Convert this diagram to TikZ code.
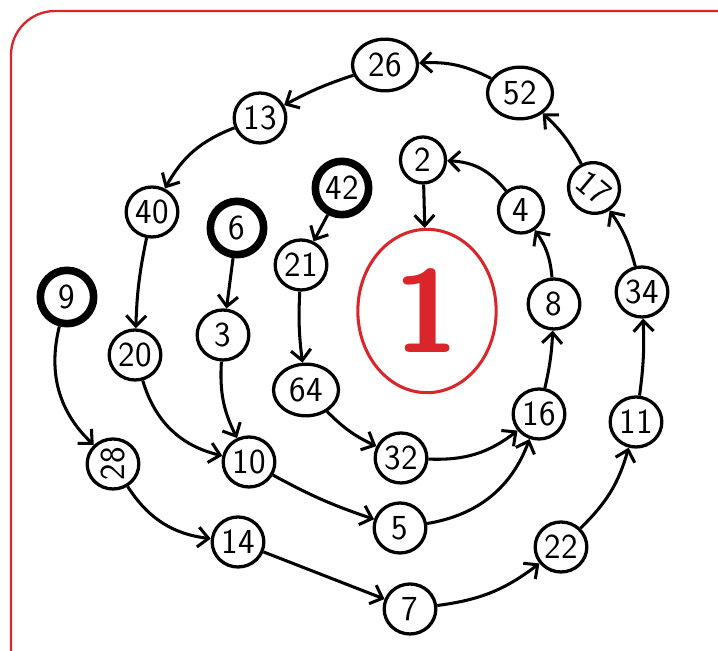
\documentclass[tikz,border=0pt]{standalone}
\usepackage{tikz}
\usetikzlibrary{arrows.meta,shapes.geometric}
\definecolor{framered}{RGB}{218,37,42}
\tikzstyle{num} = [ellipse, draw, line width=2.8pt, minimum width=1.55cm, minimum height=1.5cm, inner sep=0pt, font=\sffamily\fontsize{30}{30}\selectfont]
\tikzstyle{widenum} = [num, minimum width=1.95cm, minimum height=1.55cm]
\tikzstyle{smallnum} = [num, minimum width=1.35cm, minimum height=1.38cm]
\tikzstyle{seednum} = [num, line width=6.5pt, minimum width=1.6cm, minimum height=1.6cm]
\tikzstyle{hop} = [-{Straight Barb[length=9pt,width=17pt,line width=2.6pt]}, line width=2.6pt]

\begin{document}
\begin{tikzpicture}[x=0.03cm, y=0.03cm]
\useasboundingbox (0,0) rectangle (718,651);
\draw[framered, line width=2pt, rounded corners=1.32cm] (11,-10) |- (730,640);

% outer ring
\node[seednum] (n9) at (67,354) {9};
\node[num] (n28) at (113,187) {\rotatebox{90}{28}};
\node[num] (n14) at (238,109) {14};
\node[num] (n7) at (410,42) {7};
\node[num] (n22) at (561,104) {22};
\node[num] (n11) at (636,229) {11};
\node[num] (n34) at (642,359) {34};
\node[num, rotate=-40] (n17) at (594,463) {17};
\node[widenum] (n52) at (520,558) {52};
\node[widenum] (n26) at (385,586) {26};
\node[num] (n13) at (260,533) {13};
\node[num] (n40) at (152,439) {40};
\node[num] (n20) at (135,296) {20};
\node[num] (n10) at (249,189) {10};
\node[num] (n5) at (400,123) {5};
\node[num] (n16) at (539,237) {16};
\node[num] (n8) at (554,347) {8};
\node[smallnum] (n4) at (521,441) {4};
\node[smallnum] (n2) at (423,491) {2};
% inner branches
\node[seednum] (n6) at (237,423) {6};
\node[num] (n3) at (223,316) {3};
\node[seednum] (n42) at (342,463) {42};
\node[num] (n21) at (301,386) {21};
\node[widenum] (n64) at (306,261) {64};
\node[num] (n32) at (401,193) {32};
% the end
\node[ellipse, draw=framered, line width=2.6pt, minimum width=4.15cm, minimum height=4.9cm,
      text=framered, font=\sffamily\bfseries\fontsize{100}{100}\selectfont] (n1) at (427,340) {1};

\draw[hop] (n9) to[bend right=30] (n28);
\draw[hop] (n28) to[bend right=25] (n14);
\draw[hop] (n14) to (n7);
\draw[hop] (n7) to[bend right=15] (n22);
\draw[hop] (n22) to[bend right=15] (n11);
\draw[hop] (n11) to[bend right=5] (n34);
\draw[hop] (n34) to[bend right=10] (n17);
\draw[hop] (n17) to[bend right=10] (n52);
\draw[hop] (n52) to[bend right=15] (n26);
\draw[hop] (n26) to[bend right=5] (n13);
\draw[hop] (n13) to[bend right=20] (n40);
\draw[hop] (n40) to[bend right=5] (n20);
\draw[hop] (n20) to[bend right=30] (n10);
\draw[hop] (n10) to[bend right=5] (n5);
\draw[hop] (n5) to[bend right=30] (n16);
\draw[hop] (n16) to[bend right=5] (n8);
\draw[hop] (n8) to[bend right=15] (n4);
\draw[hop] (n4) to[bend right=25] (n2);
\draw[hop] (n2) -- (n1);
\draw[hop] (n6) -- (n3);
\draw[hop] (n3) to[bend right=15] (n10);
\draw[hop] (n42) -- (n21);
\draw[hop] (n21) to[bend right=5] (n64);
\draw[hop] (n64) to[bend right=10] (n32);
\draw[hop] (n32) to[bend right=20] (n16);
\end{tikzpicture}
\end{document}
